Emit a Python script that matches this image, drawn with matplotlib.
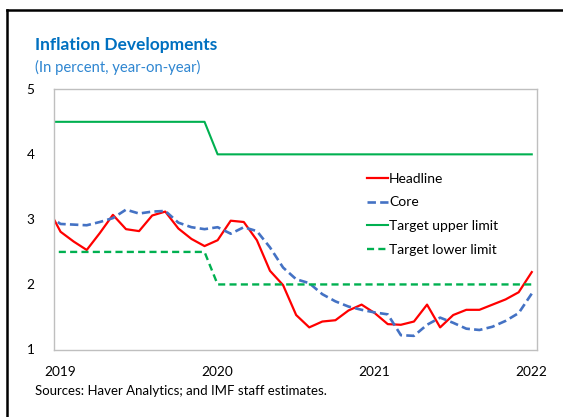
import matplotlib
matplotlib.use("Agg")
import matplotlib.pyplot as plt
from matplotlib.lines import Line2D

plt.rcParams['font.family'] = ['Lato', 'DejaVu Sans']

# months since Jan 2019 (Dec 2018 = -1 ... Jan 2022 = 36)
months = list(range(-1, 37))

headline = [3.19, 2.81, 2.66, 2.53, 2.79, 3.07, 2.85, 2.82, 3.06, 3.12, 2.86, 2.70, 2.59,
            2.68, 2.98, 2.96, 2.68, 2.21, 1.99, 1.53, 1.34, 1.43, 1.45, 1.60, 1.69,
            1.56, 1.39, 1.38, 1.43, 1.69, 1.34, 1.53, 1.61, 1.61, 1.69, 1.77, 1.88, 2.19]

core = [3.07, 2.93, 2.92, 2.91, 2.96, 3.02, 3.15, 3.09, 3.12, 3.13, 2.95, 2.88, 2.85,
        2.88, 2.78, 2.88, 2.82, 2.57, 2.26, 2.08, 2.02, 1.85, 1.74, 1.66, 1.61,
        1.57, 1.54, 1.22, 1.21, 1.38, 1.49, 1.41, 1.32, 1.30, 1.35, 1.44, 1.56, 1.86]

upper = [4.5] * 13 + [4.0] * 25
lower = [2.5] * 13 + [2.0] * 25

year_ticks = [0, 12, 24, 36]
year_labels = ["2019", "2020", "2021", "2022"]
y_ticks = [1, 2, 3, 4, 5]

fig = plt.figure(figsize=(5.63, 4.17), dpi=100)
ax = fig.add_axes([54 / 563, 1 - 349.5 / 417, (537 - 54) / 563, (349.5 - 89.3) / 417])

ax.plot(months, headline, color="#FF0000", lw=1.6, label="Headline")
ax.plot(months, core, color="#4472C4", lw=1.9, dashes=(3.2, 1.6), label="Core")
ax.plot(months, upper, color="#00B050", lw=1.5, label="Target upper limit")
ax.plot(months, lower, color="#00B050", lw=1.7, dashes=(3.0, 1.8), label="Target lower limit")

ax.set_xlim(-0.5, 36.4)
ax.set_ylim(1, 5)
ax.set_xticks(year_ticks)
ax.set_xticklabels(year_labels)
ax.set_yticks(y_ticks)
ax.tick_params(axis="both", length=0, labelsize=9.8, colors="#000000")
ax.tick_params(axis="y", pad=14)
ax.tick_params(axis="x", pad=12)
for s in ax.spines.values():
    s.set_color("#BFBFBF")
    s.set_linewidth(1.0)

leg = ax.legend(loc="upper left", bbox_to_anchor=(0.636, 0.701), frameon=False,
                fontsize=10, handlelength=1.5, handletextpad=0.12, labelspacing=0.85,
                borderaxespad=0)

fig.text(35 / 563, 1 - 45 / 417, "Inflation Developments", color="#0070C0",
         fontsize=12.5, fontweight="bold", va="center", ha="left")
fig.text(35 / 563, 1 - 67 / 417, "(In percent, year-on-year)", color="#2E86D1",
         fontsize=10.75, va="center", ha="left")
fig.text(35 / 563, 1 - 391 / 417, "Sources: Haver Analytics; and IMF staff estimates.",
         color="#000000", fontsize=9.5, va="center", ha="left")

# outer black frame (left and top edges)
fig.add_artist(Line2D([7 / 563, 7 / 563], [0, 1 - 10 / 417], color="black", lw=1.8,
                      transform=fig.transFigure))
fig.add_artist(Line2D([7 / 563, 1], [1 - 10 / 417, 1 - 10 / 417], color="black", lw=1.8,
                      transform=fig.transFigure))

fig.savefig("out.png", dpi=100)
